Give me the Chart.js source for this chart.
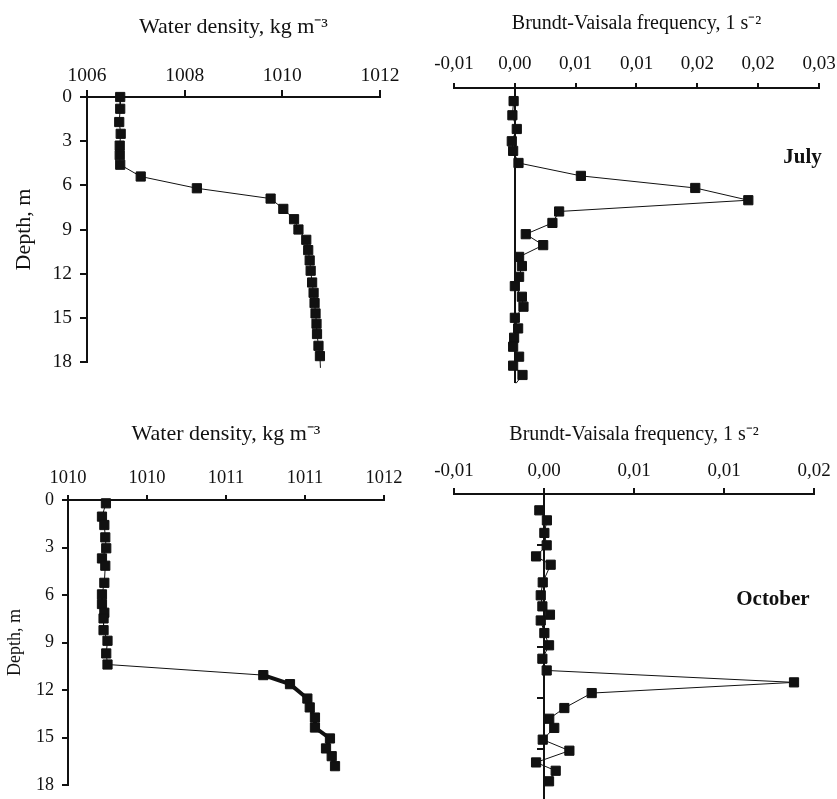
<!DOCTYPE html>
<html>
<head>
<meta charset="utf-8">
<script src="https://cdn.jsdelivr.net/npm/chart.js@4/dist/chart.umd.min.js"></script>
<style>
html, body { margin: 0; padding: 0; background: #fff; overflow: hidden; width: 837px; height: 799px; }
.panel { position: absolute; }
</style>
</head>
<body>
<div class="panel" style="left:0px;top:0px"><canvas id="julyDens" width="420" height="382"></canvas></div>
<div class="panel" style="left:420px;top:0px"><canvas id="julyN2" width="440" height="402"></canvas></div>
<div class="panel" style="left:0px;top:400px"><canvas id="octDens" width="420" height="420"></canvas></div>
<div class="panel" style="left:420px;top:400px"><canvas id="octN2" width="440" height="420"></canvas></div>
<script>
// July, water density profile (last point = line tail, no marker)
var julyDepth = [0, 0.8, 1.7, 2.5, 3.3, 3.95, 4.6, 5.4, 6.2, 6.9, 7.6, 8.3, 9.0, 9.7,
  10.4, 11.1, 11.8, 12.6, 13.3, 14.0, 14.7, 15.4, 16.1, 16.9, 17.6, 18.4];
var julyDensity = [1006.68, 1006.68, 1006.66, 1006.69, 1006.67, 1006.67, 1006.68, 1007.10,
  1008.25, 1009.76, 1010.02, 1010.24, 1010.33, 1010.49, 1010.53, 1010.56, 1010.58, 1010.61,
  1010.64, 1010.66, 1010.68, 1010.70, 1010.71, 1010.74, 1010.77, 1010.78];

// July, Brunt-Vaisala frequency
var julyN2Depth = [0.8, 1.67, 2.51, 3.26, 3.85, 4.59, 5.38, 6.12, 6.87, 7.56, 8.26, 8.95,
  9.62, 10.34, 10.9, 11.56, 12.13, 12.78, 13.39, 14.07, 14.72, 15.29, 15.84, 16.45, 17.0,
  17.57, 18.08];
var julyN2 = [-0.0001, -0.0002, 0.00016, -0.00025, -0.00014, 0.0003, 0.00543, 0.01483,
  0.01919, 0.00364, 0.00309, 0.0009, 0.00233, 0.00035, 0.00058, 0.00035, 0.0, 0.00058,
  0.00071, 0.0, 0.00027, -0.00006, -0.00014, 0.00035, -0.00014, 0.00063, 0.0001];

// October, water density profile
var octDepth = [0.21, 1.05, 1.58, 2.36, 3.05, 3.69, 4.15, 5.23, 5.96, 6.57, 7.12, 7.48,
  8.22, 8.89, 9.69, 10.39, 11.06, 11.63, 12.54, 13.1, 13.74, 14.37, 15.06, 15.69, 16.18, 16.81];
var octDensity = [1009.74, 1009.715, 1009.73, 1009.736, 1009.742, 1009.715, 1009.736,
  1009.73, 1009.715, 1009.715, 1009.73, 1009.725, 1009.725, 1009.75, 1009.742, 1009.75,
  1010.736, 1010.905, 1011.015, 1011.03, 1011.063, 1011.063, 1011.158, 1011.133,
  1011.169, 1011.19];

// October, Brunt-Vaisala frequency
var octN2Depth = [0.96, 1.55, 2.29, 3.02, 3.67, 4.16, 5.2, 5.96, 6.61, 7.1, 7.44, 8.18,
  8.9, 9.69, 10.38, 11.08, 11.71, 12.59, 13.22, 13.76, 14.45, 15.1, 15.79, 16.28, 16.9];
var octN2 = [-0.00026, 0.00016, 0.00002, 0.00015, -0.00044, 0.00037, -0.00007, -0.00018,
  -0.00009, 0.00033, -0.00018, 0.00002, 0.00028, -0.00009, 0.00015, 0.01389, 0.00265,
  0.00113, 0.00029, 0.00057, -0.00007, 0.00141, -0.00044, 0.00065, 0.00028];

// tick labels as printed on the original axes
var depthTickValues = [0, 3, 6, 9, 12, 15, 18];
var depthTicks = ['0', '3', '6', '9', '12', '15', '18'];
var julyDensTicks = ['1006', '1008', '1010', '1012'];
var julyN2Ticks = ['-0,01', '0,00', '0,01', '0,01', '0,02', '0,02', '0,03'];
var octDensTicks = ['1010', '1010', '1011', '1011', '1012'];
var octN2Ticks = ['-0,01', '0,00', '0,01', '0,01', '0,02'];

var densTitle = 'Water density, kg m\u207B\u00B3';
var n2Title = 'Brundt-Vaisala frequency, 1 s\u207B\u00B2';

var SERIF = "'Liberation Serif', 'Times New Roman', serif";
var INK = '#111';

Chart.defaults.font.family = SERIF;
Chart.defaults.color = INK;

/**
  month label drawn in data coordinates
*/
var monthLabel = {
  id: 'monthLabel',
  afterDraw: function(chart, args, opts) {
    if (!opts.text) return;
    var ctx = chart.ctx;
    ctx.save();
    ctx.font = 'bold 21px ' + SERIF;
    ctx.fillStyle = INK;
    ctx.textAlign = 'center';
    ctx.textBaseline = 'middle';
    ctx.fillText(opts.text, chart.scales.x.getPixelForValue(opts.x),
      chart.scales.y.getPixelForValue(opts.y));
    ctx.restore();
  }
};

function toPoints(xs, ys) {
  return xs.map(function(v, i) { return {x: v, y: ys[i]}; });
}

function depthLabel(v) {
  return depthTicks[depthTickValues.indexOf(v)];
}

function profile(xs, ys, tail, thickFrom) {
  var n = xs.length;
  return {
    data: toPoints(xs, ys),
    showLine: true,
    clip: false,
    borderColor: INK,
    borderWidth: 1,
    segment: {
      borderWidth: function(c) { return (thickFrom !== undefined && c.p0DataIndex >= thickFrom) ? 4 : 1; }
    },
    pointStyle: 'rect',
    pointRadius: function(c) { return (tail && c.dataIndex === n - 1) ? 0 : 6.5; },
    pointBackgroundColor: INK,
    pointBorderColor: INK,
    pointBorderWidth: 1
  };
}

function xAxis(p) {
  return {
    type: 'linear',
    position: 'top',
    min: p.min, max: p.max,
    afterFit: function(s) { s.height = p.height; },
    border: { display: true, color: INK, width: 2 },
    grid: { drawOnChartArea: false, color: INK, lineWidth: 2, tickLength: p.tick },
    ticks: {
      stepSize: p.step,
      padding: p.pad,
      font: { size: p.tickSize },
      maxRotation: 0,
      callback: function(v, i) { return p.labels[i]; }
    },
    title: {
      display: true, text: p.title,
      font: { size: p.titleSize },
      padding: { top: p.titlePad, bottom: 0 }
    }
  };
}

function makeChart(id, cfg) {
  return new Chart(document.getElementById(id), {
    type: 'scatter',
    data: { datasets: [cfg.dataset] },
    plugins: [monthLabel],
    options: {
      responsive: false,
      animation: false,
      layout: { padding: cfg.padding },
      plugins: {
        legend: { display: false },
        tooltip: { enabled: false },
        monthLabel: cfg.month || {}
      },
      scales: { x: cfg.x, y: cfg.y }
    }
  });
}

// top left: July density
makeChart('julyDens', {
  dataset: profile(julyDensity, julyDepth, true),
  padding: { left: 0, top: 0, right: 40, bottom: 20 },
  x: xAxis({ min: 1006, max: 1012, step: 2, labels: julyDensTicks, height: 97, tick: 7,
    pad: 2, tickSize: 19.5, title: densTitle, titleSize: 22, titlePad: 14 }),
  y: {
    type: 'linear', reverse: true, min: 0, max: 18,
    afterFit: function(s) { s.width = 87; },
    border: { display: true, color: INK, width: 2 },
    grid: { drawOnChartArea: false, color: INK, lineWidth: 2, tickLength: 7 },
    ticks: { stepSize: 3, padding: 8, font: { size: 19.5 }, callback: depthLabel },
    title: { display: true, text: 'Depth, m', font: { size: 22 }, padding: { top: 11, bottom: 0 } }
  }
});

// top right: July N2
makeChart('julyN2', {
  dataset: profile(julyN2, julyN2Depth, true),
  padding: { left: 34, top: 0, right: 41, bottom: 20 },
  month: { text: 'July', x: 0.02365, y: 4.24 },
  x: xAxis({ min: -0.005, max: 0.025, step: 0.005, labels: julyN2Ticks, height: 88, tick: 5,
    pad: 8, tickSize: 19, title: n2Title, titleSize: 20, titlePad: 12 }),
  y: {
    type: 'linear', reverse: true, min: 0, max: 18,
    position: { x: 0 },
    border: { display: true, color: INK, width: 2 },
    grid: { drawOnChartArea: false, color: 'rgba(0,0,0,0)', tickLength: 0 },
    ticks: { display: false, stepSize: 3 }
  }
});

// bottom left: October density
makeChart('octDens', {
  dataset: profile(octDensity, octDepth, false, 16),
  padding: { left: 0, top: 0, right: 36, bottom: 35 },
  x: xAxis({ min: 1009.5, max: 1011.5, step: 0.5, labels: octDensTicks, height: 100, tick: 5,
    pad: 6, tickSize: 18.5, title: densTitle, titleSize: 22, titlePad: 21 }),
  y: {
    type: 'linear', reverse: true, min: 0, max: 18,
    afterFit: function(s) { s.width = 68; },
    border: { display: true, color: INK, width: 2 },
    grid: { drawOnChartArea: false, color: INK, lineWidth: 2, tickLength: 6 },
    ticks: { stepSize: 3, padding: 8, font: { size: 18 }, callback: depthLabel },
    title: { display: true, text: 'Depth, m', font: { size: 18 }, padding: { top: 4, bottom: 0 } }
  }
});

// bottom right: October N2
makeChart('octN2', {
  dataset: profile(octN2, octN2Depth, false),
  padding: { left: 34, top: 0, right: 46, bottom: 20 },
  month: { text: 'October', x: 0.01272, y: 6.22 },
  x: xAxis({ min: -0.005, max: 0.015, step: 0.005, labels: octN2Ticks, height: 94, tick: 6,
    pad: 6, tickSize: 19, title: n2Title, titleSize: 20, titlePad: 23 }),
  y: {
    type: 'linear', reverse: true, min: 0, max: 18,
    position: { x: 0 },
    border: { display: true, color: INK, width: 2 },
    grid: { drawOnChartArea: false, color: INK, lineWidth: 2, tickLength: 6 },
    ticks: { display: false, stepSize: 3 }
  }
});
</script>
</body>
</html>
